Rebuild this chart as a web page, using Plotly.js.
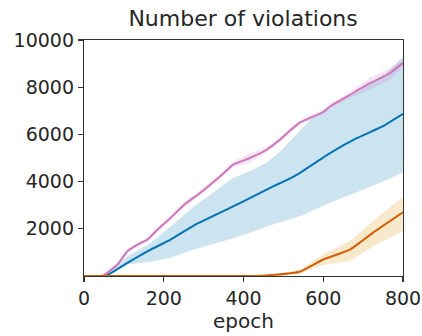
<!DOCTYPE html>
<html>
<head>
<meta charset="utf-8">
<script src="https://cdn.plot.ly/plotly-3.0.1.min.js"></script>
<style>html,body{margin:0;padding:0;background:#fff;}#chart{width:422px;height:336px;}</style>
</head>
<body>
<div id="chart"></div>
<script>
// ---- data ----
const pinkEpochs = [0, 46, 84, 109, 134, 159, 184, 217, 251, 291, 341, 374, 416, 458, 491, 516, 541, 566, 600, 617, 667, 717, 767, 800];
const pinkMean   = [0, 0, 487, 1050, 1330, 1540, 1960, 2460, 3020, 3520, 4220, 4715, 5000, 5350, 5770, 6150, 6500, 6690, 6950, 7180, 7675, 8170, 8590, 9030];
const pinkLower  = [0, 0, 410, 960, 1240, 1450, 1870, 2370, 2920, 3420, 4120, 4600, 4800, 5230, 5670, 6050, 6400, 6580, 6850, 7070, 7550, 7900, 8300, 8850];
const pinkUpper  = [0, 0, 560, 1140, 1420, 1630, 2050, 2550, 3120, 3620, 4320, 4830, 5200, 5470, 5870, 6250, 6600, 6800, 7050, 7290, 7800, 8400, 8800, 9200];

const blueEpochs = [0, 54, 109, 167, 217, 276, 374, 416, 458, 491, 516, 541, 566, 617, 684, 750, 800];
const blueMean   = [0, 0, 560, 1120, 1540, 2150, 2950, 3300, 3660, 3930, 4130, 4360, 4640, 5210, 5840, 6350, 6870];
const blueUpper  = [0, 0, 840, 1400, 2100, 2950, 4150, 4450, 4800, 5250, 5700, 6150, 6600, 7100, 7800, 8450, 9290];
const blueLower  = [0, 0, 490, 600, 770, 1120, 1600, 1830, 2100, 2270, 2400, 2530, 2720, 3100, 3550, 4000, 4400];

const orangeEpochs = [0, 430, 480, 541, 600, 667, 730, 800];
const orangeMean   = [0, 0, 50, 180, 700, 1120, 1900, 2700];
const orangeUpper  = [0, 0, 80, 250, 920, 1480, 2400, 3350];
const orangeLower  = [0, 0, 20, 110, 480, 620, 1300, 1900];

const xTicks = [0, 200, 400, 600, 800];
const yTicks = [2000, 4000, 6000, 8000, 10000];

const BLUE = '#0173b2', PINK = '#cc78bc', ORANGE = '#d55e00';

function band(xs, lo, hi, fill) {
  return {
    x: xs.concat(xs.slice().reverse()),
    y: hi.concat(lo.slice().reverse()),
    type: 'scatter', mode: 'lines', fill: 'toself',
    fillcolor: fill, line: {width: 0, color: 'rgba(0,0,0,0)'},
    hoverinfo: 'skip', showlegend: false
  };
}
function line(xs, ys, color) {
  return {x: xs, y: ys, type: 'scatter', mode: 'lines',
    line: {color: color, width: 2, shape: 'spline', smoothing: 0.4}, showlegend: false};
}

const traces = [
  band(blueEpochs, blueLower, blueUpper, 'rgba(1,115,178,0.2)'),
  band(pinkEpochs, pinkLower, pinkUpper, 'rgba(204,120,188,0.2)'),
  line(blueEpochs, blueMean, BLUE),
  line(pinkEpochs, pinkMean, PINK),
  band(orangeEpochs, orangeLower, orangeUpper, 'rgba(222,143,5,0.2)'),
  line(orangeEpochs, orangeMean, ORANGE)
];

const FONT = 'DejaVu Sans, sans-serif';
const layout = {
  width: 422, height: 336,
  margin: {l: 84, r: 19, t: 40, b: 59.5, pad: 0},
  paper_bgcolor: '#fff', plot_bgcolor: '#fff',
  font: {family: FONT, size: 19, color: '#262626'},
  title: {text: 'Number of violations', font: {family: FONT, size: 22, color: '#262626'},
    x: 0.576, xanchor: 'center', y: 0.945, yanchor: 'middle'},
  xaxis: {
    range: [0, 800], tickvals: xTicks, ticktext: xTicks.map(String),
    showgrid: false, zeroline: false, showline: true, mirror: true,
    linecolor: '#333', linewidth: 1.2, ticks: 'outside', ticklen: 5, tickwidth: 1.2, tickcolor: '#333',
    tickfont: {family: FONT, size: 19, color: '#262626'},
    title: {text: 'epoch', font: {family: FONT, size: 20, color: '#262626'}, standoff: 3}
  },
  yaxis: {
    range: [0, 10000], tickvals: yTicks, ticktext: yTicks.map(String),
    showgrid: false, zeroline: false, showline: true, mirror: true,
    linecolor: '#333', linewidth: 1.2, ticks: 'outside', ticklen: 5, tickwidth: 1.2, tickcolor: '#333',
    tickfont: {family: FONT, size: 19, color: '#262626'}
  }
};

Plotly.newPlot('chart', traces, layout, {displayModeBar: false, staticPlot: true});
</script>
</body>
</html>
